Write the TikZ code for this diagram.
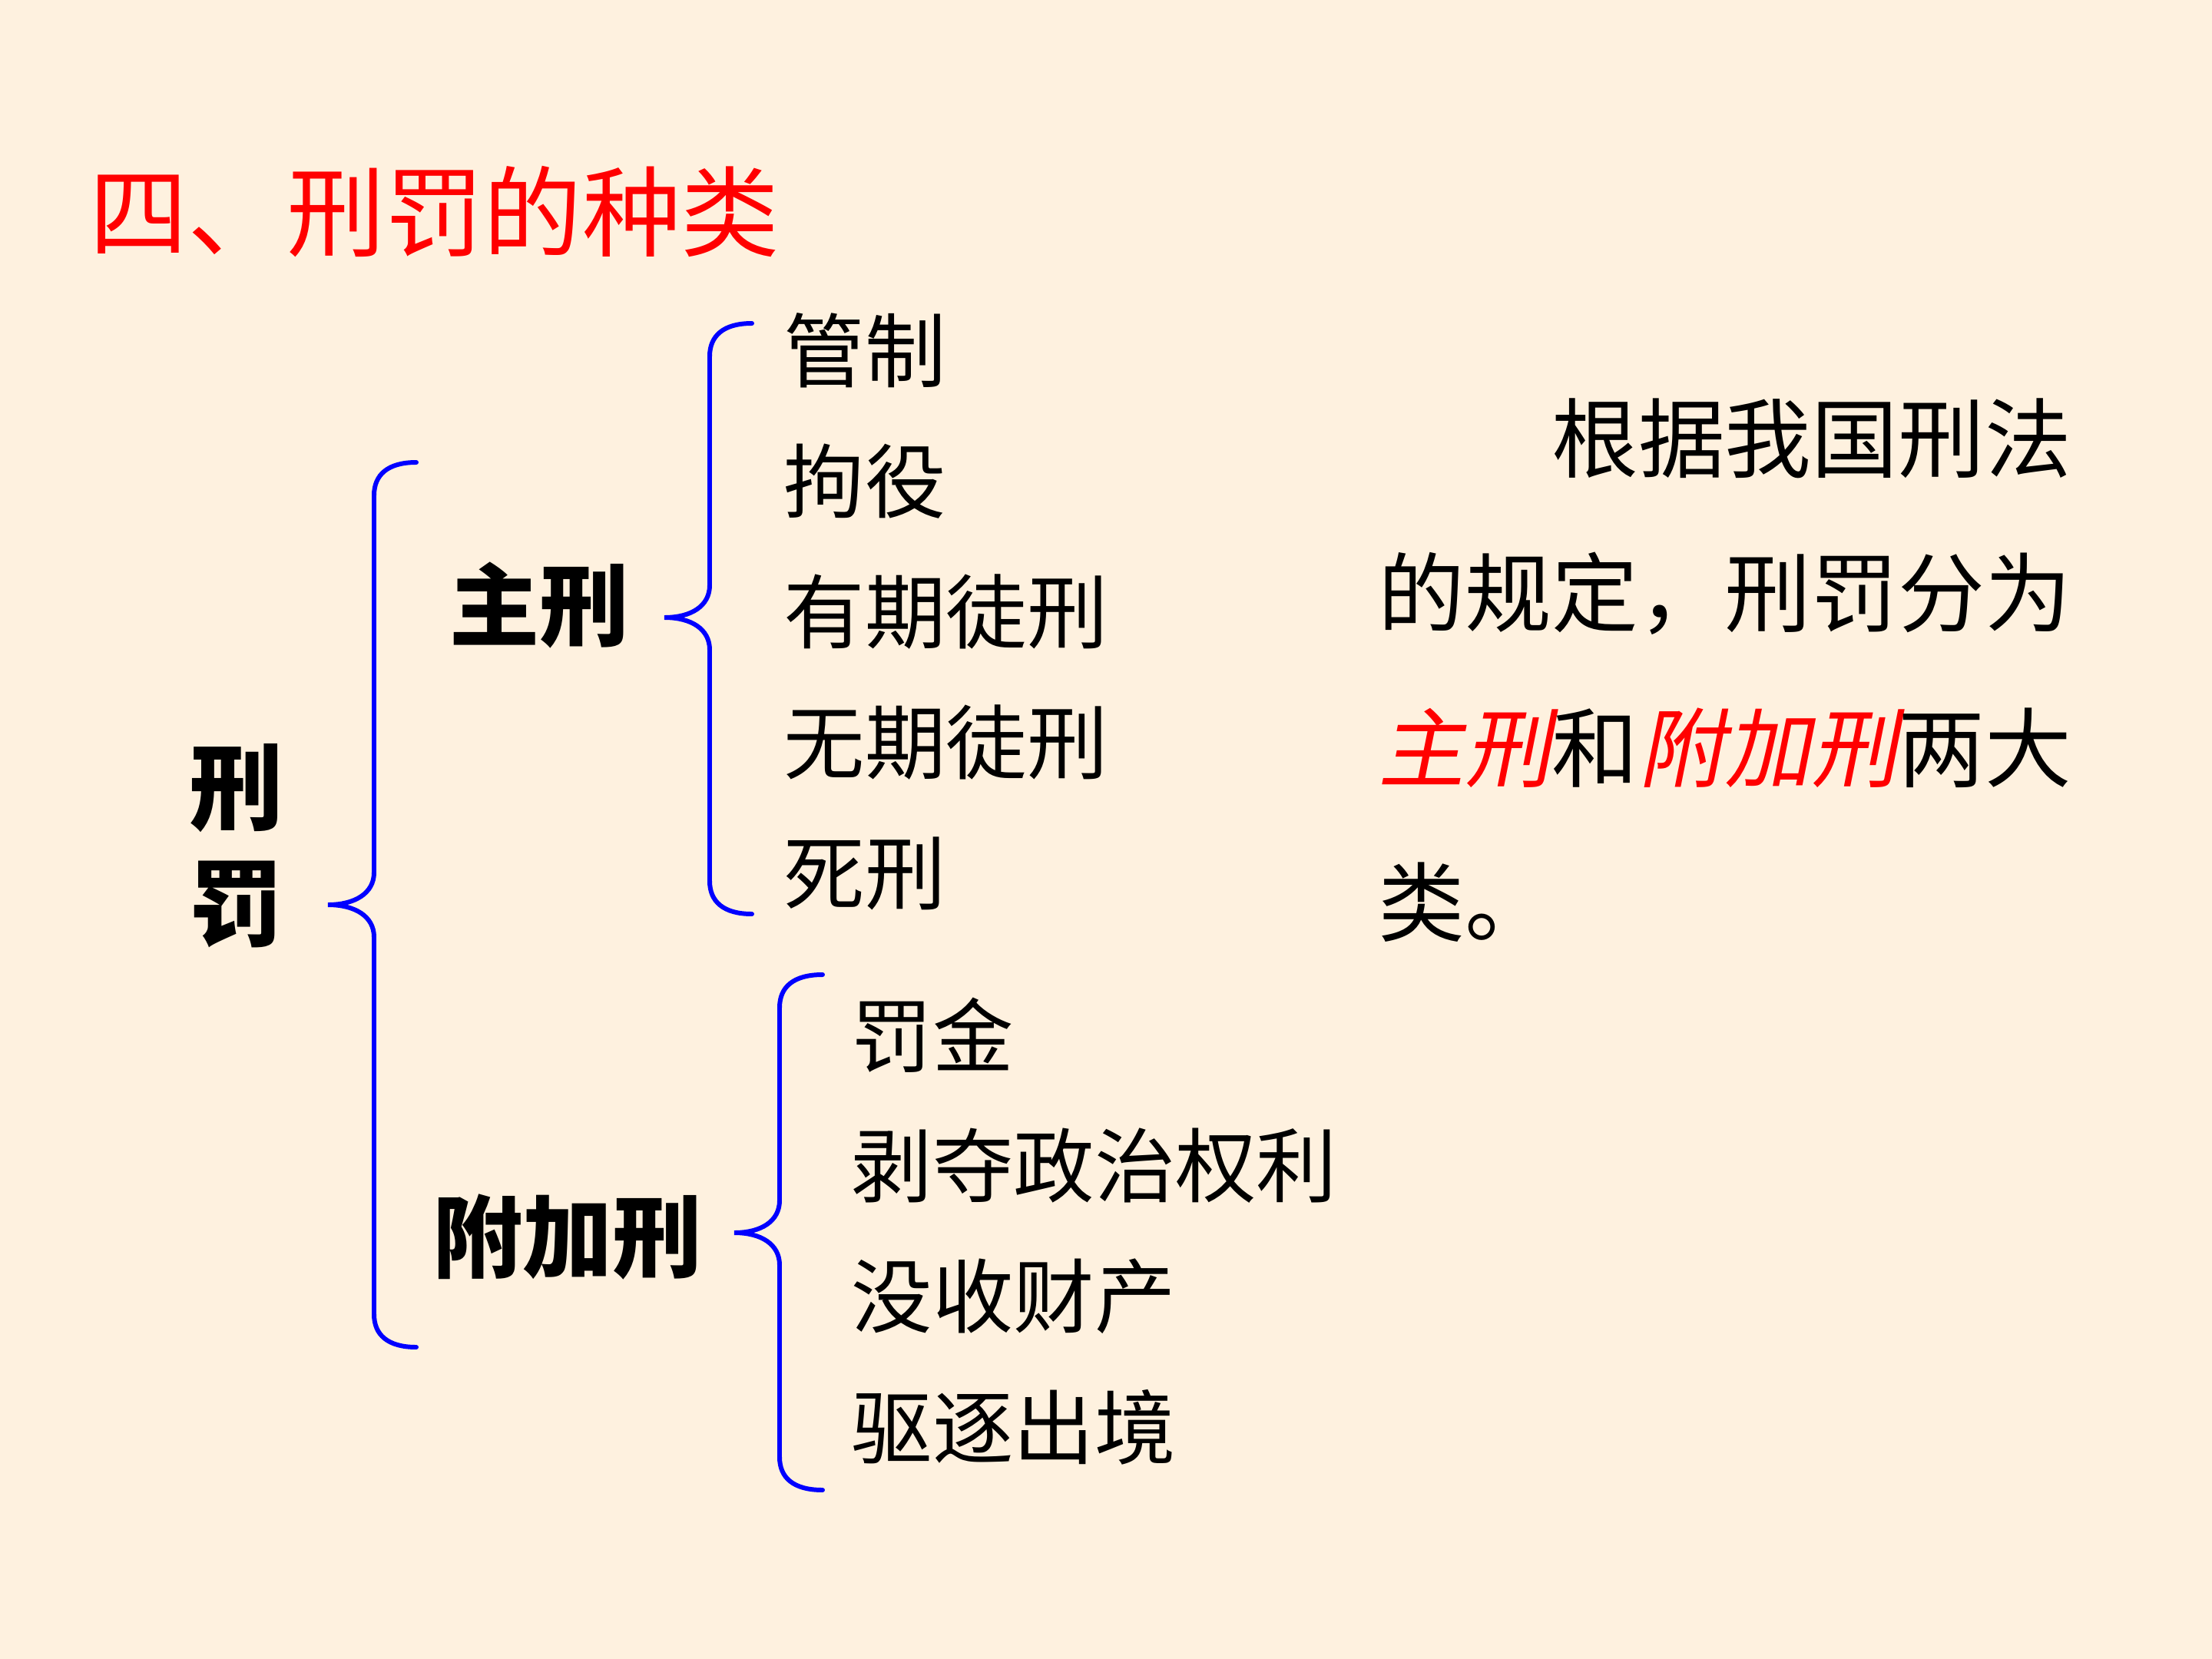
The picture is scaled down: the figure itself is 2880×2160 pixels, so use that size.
\documentclass[tikz,border=0pt]{standalone}
\usepackage{fontspec}
\setmainfont{Noto Sans CJK SC}
\newfontfamily\cjkslant[FakeSlant=0.2]{Noto Sans CJK SC}
\usepackage{tikz}
\usetikzlibrary{positioning}
\definecolor{pbg}  {HTML}{FEF1DF}
\definecolor{pblue}{HTML}{0000FF}
\definecolor{pred} {HTML}{FF0000}
\tikzset{
  ptitle/.style={anchor=west, inner sep=0pt, text=pred,
                 font=\fontsize{36.5}{40}\selectfont},
  pgroup/.style={anchor=west, inner sep=0pt,
                 font=\fontsize{33.3}{40}\selectfont\bfseries},
  pitem/.style={anchor=west, inner sep=0pt, font=\fontsize{30}{36}\selectfont},
  pbrace/.style={draw=pblue, line width=1.7pt, line cap=round},
  ptext/.style={anchor=north west, inner sep=0pt, align=left,
                font=\fontsize{32.1}{57.3}\selectfont},
}

\begin{document}
\begin{tikzpicture}[x=0.1mm,y=-0.1mm]
  \fill[pbg] (0,0) rectangle (2880,2160);
  \useasboundingbox (0,0) rectangle (2880,2160);
  \node[ptitle] (title) at (116,276) {四、刑罚的种类};
  % root and the two groups
  \node[pgroup, anchor=center, align=center, font=\fontsize{35}{43.1}\selectfont\bfseries]
    (root) at (308,1101) {刑\\罚};
  \node[pgroup] (zhu) at (585,788) {主刑};
  \node[pgroup] (fujia) at (563,1610) {附加刑};
  % braces: end x, line x, tip x, top y, tip y, bottom y
  \foreach \xe/\xl/\xt/\yt/\ym/\yb in {542/487/427/602/1178/1754,
                                       979/924/865/421/804/1190,
                                       1071/1015/956/1269/1605/1940}
    {\draw[pbrace] (\xe,\yt) .. controls (\xl+18,\yt) and (\xl,\yt+16) .. (\xl,\yt+43)
       -- (\xl,\ym-42) .. controls (\xl,\ym-15) and (\xt+35,\ym) .. (\xt,\ym)
       .. controls (\xt+35,\ym) and (\xl,\ym+15) .. (\xl,\ym+42)
       -- (\xl,\yb-43) .. controls (\xl,\yb-16) and (\xl+18,\yb) .. (\xe,\yb);}
  % items
  \foreach \t [count=\i from 0] in {管制,拘役,有期徒刑,无期徒刑,死刑}
    {\node[pitem] (zhu\i) at (1020,456+\i*170.3) {\t};}
  \foreach \t [count=\i from 0] in {罚金,剥夺政治权利,没收财产,驱逐出境}
    {\node[pitem] (fujia\i) at (1108,1348+\i*170) {\t};}
  \node[ptext] (note) at (1794,518)
    {\hspace*{2em}根据我国刑法\\
     的规定，刑罚分为\\
     {\color{pred}\cjkslant 主刑}和{\color{pred}\cjkslant 附加刑}两大\\
     类。};
\end{tikzpicture}
\end{document}
